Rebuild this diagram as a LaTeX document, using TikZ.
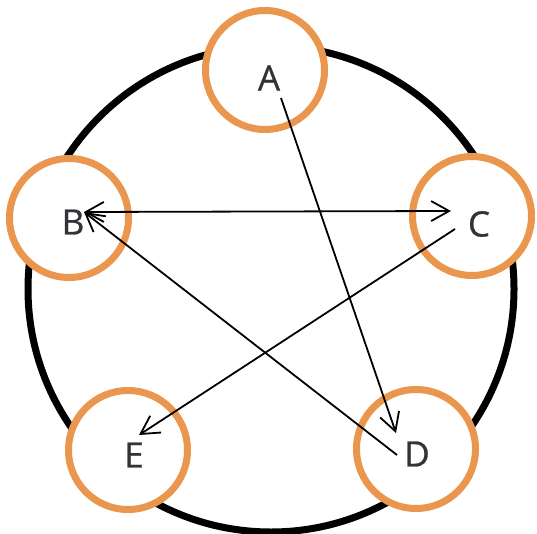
\documentclass[tikz,border=0pt]{standalone}
\usepackage{fontspec}
\setmainfont{Open Sans}
\newfontfamily\letterfont{Open Sans}[FakeBold=0.7]
\usetikzlibrary{arrows.meta}
\definecolor{ringorange}{RGB}{234,150,78}
\definecolor{lettergray}{RGB}{50,50,55}
\begin{document}
\begin{tikzpicture}[x=1pt,y=-1pt,
  ring/.style={circle,draw=ringorange,line width=7pt,fill=white,minimum size=119pt,inner sep=0pt},
  letter/.style={font=\letterfont\fontsize{35}{35}\selectfont,text=lettergray,inner sep=0pt},
  conn/.style={line width=1.8pt,-{Straight Barb[length=18pt,width=20pt,line width=1.8pt]}},
  dconn/.style={line width=1.8pt,{Straight Barb[length=18pt,width=20pt,line width=1.8pt]}-{Straight Barb[length=18pt,width=20pt,line width=1.8pt]}}]
\useasboundingbox (0,0) rectangle (537,534);
\fill[white] (0,0) rectangle (537,534);
\draw[line width=7pt] (271,289) circle (243pt);
\node[ring] (A) at (265,70) {};
\node[ring] (B) at (69,218) {};
\node[ring] (C) at (472,216) {};
\node[ring] (E) at (128,450) {};
\node[ring] (D) at (416,449) {};
\node[letter] (lA) at (269,78) {A};
\node[letter] (lB) at (73,222) {B};
\node[letter] (lC) at (479,224) {C};
\node[letter] (lE) at (134,455) {E};
\node[letter] (lD) at (417,454) {D};
\coordinate (a1) at (281,98);
\coordinate (d1) at (396,433);
\coordinate (d2) at (397,455);
\coordinate (b1) at (84,212);
\coordinate (b2) at (84,212);
\coordinate (c1) at (451,211);
\coordinate (c2) at (455,229);
\coordinate (e1) at (139,435);
\draw[conn] (a1) -- (d1);
\draw[dconn] (b1) -- (c1);
\draw[conn] (d2) -- (b2);
\draw[conn] (c2) -- (e1);
\end{tikzpicture}
\end{document}
